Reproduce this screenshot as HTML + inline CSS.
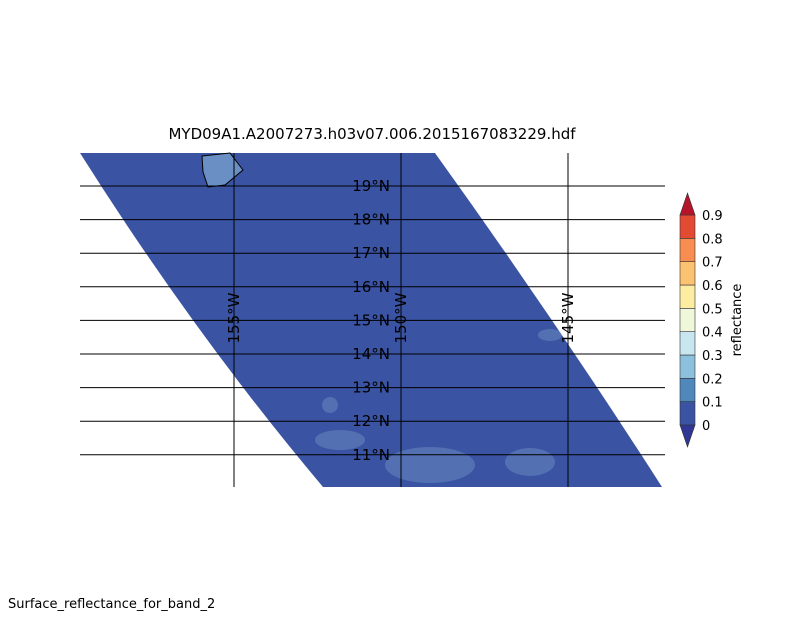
<!DOCTYPE html>
<html><head><meta charset="utf-8"><style>
body{margin:0;background:#fff;}
svg{display:block;font-family:"DejaVu Sans","Liberation Sans",sans-serif;}
</style></head><body>
<svg id="chart" width="800" height="640" viewBox="0 0 800 640">
<text x="372" y="139" font-size="15" text-anchor="middle">MYD09A1.A2007273.h03v07.006.2015167083229.hdf</text>
<path d="M80,153 L435,153 Q555,320 662,487 L323,487 Q195,335 80,153 Z" fill="#3a53a3"/>
<g id="speckles">
<ellipse cx="430" cy="465" rx="45" ry="18" fill="#8fb6d6" opacity="0.3"/>
<ellipse cx="530" cy="462" rx="25" ry="14" fill="#8fb6d6" opacity="0.3"/>
<ellipse cx="340" cy="440" rx="25" ry="10" fill="#8fb6d6" opacity="0.3"/>
<ellipse cx="330" cy="405" rx="8" ry="8" fill="#8fb6d6" opacity="0.3"/>
<ellipse cx="550" cy="335" rx="12" ry="6" fill="#8fb6d6" opacity="0.3"/>
</g>
<path d="M202,156 L230,153 L243,170 L225,185 L208,187 L203,172 Z" fill="#6a8fc4" stroke="#000" stroke-width="1"/>
<g id="grid"></g>
<g id="colorbar"></g>
<text transform="translate(741,320) rotate(-90)" font-size="13" text-anchor="middle">reflectance</text>
<text x="8" y="608" font-size="13">Surface_reflectance_for_band_2</text>
</svg>
<script>
const latLabels=["19°N","18°N","17°N","16°N","15°N","14°N","13°N","12°N","11°N"];
const latValues=[19,18,17,16,15,14,13,12,11];
const lonLabels=["155°W","150°W","145°W"];
const lonValues=[-155,-150,-145];
const cbTicks=["0","0.1","0.2","0.3","0.4","0.5","0.6","0.7","0.8","0.9"];
const cbColors=["#3a53a3","#5088bd","#8dc0dd","#c7e6ef","#f0f8dc","#fdeda1","#fcc171","#f88d52","#e24a33"];
const ns="http://www.w3.org/2000/svg";
const yLat=v=>186+(19-v)*33.6;
const xLon=v=>234+(v+155)*33.4;
const g=document.getElementById('grid');
function mk(t,a,p){const e=document.createElementNS(ns,t);for(const k in a)e.setAttribute(k,a[k]);p.appendChild(e);return e;}
latValues.forEach((v,i)=>{const y=yLat(v);
const l=mk('line',{x1:80,x2:665,y1:y,y2:y,stroke:'#000','stroke-width':1},g);


const t=mk('text',{x:390,y:y+5,'font-size':15,'text-anchor':'end'},g);t.textContent=latLabels[i];

});
lonValues.forEach((v,i)=>{const x=xLon(v);
const l=mk('line',{x1:x,x2:x,y1:153,y2:487,stroke:'#000','stroke-width':1},g);


const t=mk('text',{transform:`translate(${x+5},318) rotate(-90)`,'font-size':15,'text-anchor':'middle'},g);t.textContent=lonLabels[i];

});
const cb=document.getElementById('colorbar');
const x0=680,w=15,yb=425,h=210/cbColors.length;
cbColors.forEach((c,i)=>{const r=mk('rect',{x:x0,y:yb-(i+1)*h,width:w,height:h,fill:c,stroke:'#333','stroke-width':0.6},cb);

});
const tt=mk('path',{d:`M${x0},215 L${x0+w/2},193 L${x0+w},215 Z`,fill:'#b5152b',stroke:'#333','stroke-width':0.6},cb);


const tb=mk('path',{d:`M${x0},425 L${x0+w/2},447 L${x0+w},425 Z`,fill:'#313695',stroke:'#333','stroke-width':0.6},cb);


cbTicks.forEach((s,i)=>{const t=mk('text',{x:702,y:yb-i*h+5,'font-size':13},cb);t.textContent=s;

});
</script>
</body></html>
